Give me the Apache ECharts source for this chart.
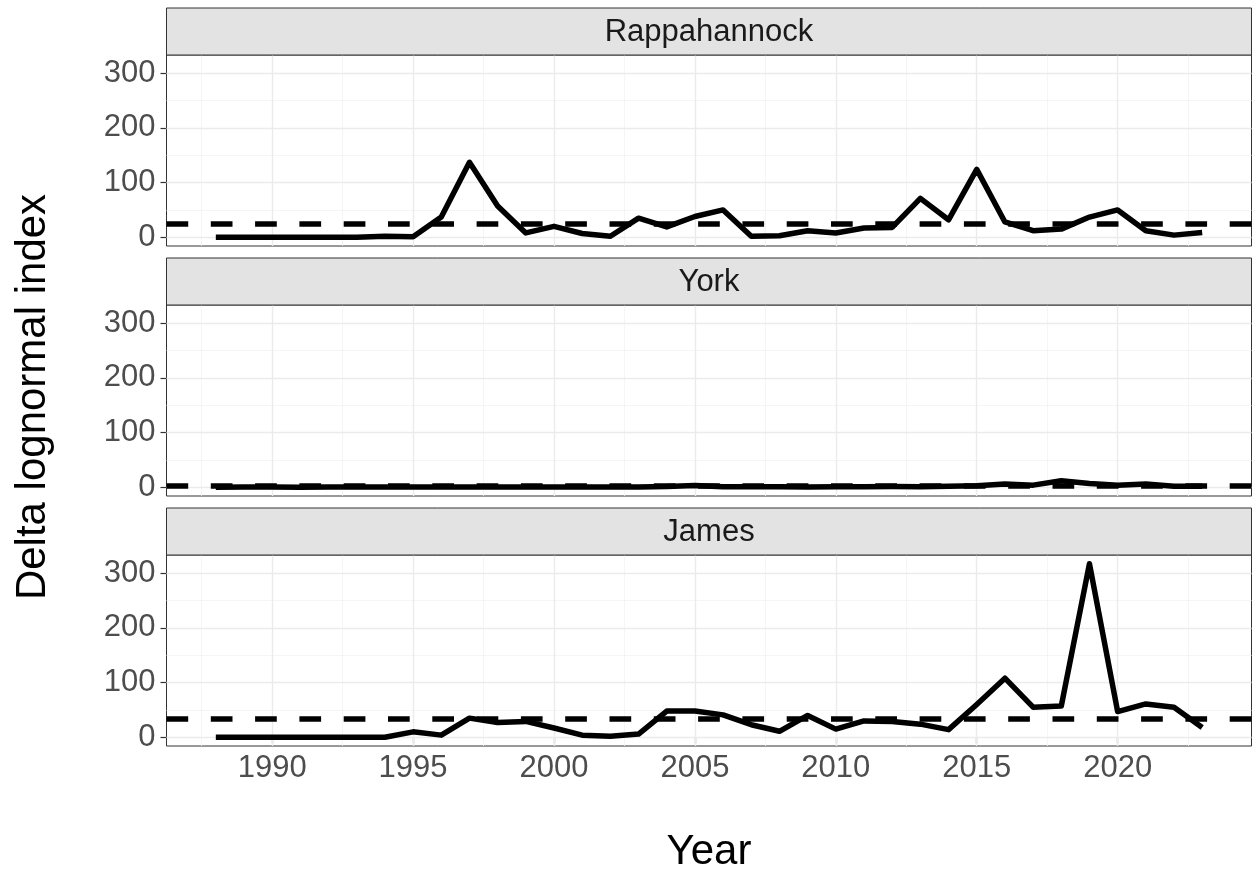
<!DOCTYPE html>
<html>
<head>
<meta charset="utf-8">
<title>Delta lognormal index by river</title>
<script src="https://cdn.jsdelivr.net/npm/echarts@6/dist/echarts.min.js"></script>
<style>
  html, body { margin: 0; padding: 0; background: #ffffff; }
  #chart { width: 1253px; height: 874px; }
</style>
</head>
<body>
<div id="chart"></div>
<script>
// Survey years
const years = [1988, 1989, 1990, 1991, 1992, 1993, 1994, 1995, 1996, 1997, 1998, 1999,
               2000, 2001, 2002, 2003, 2004, 2005, 2006, 2007, 2008, 2009, 2010, 2011,
               2012, 2013, 2014, 2015, 2016, 2017, 2018, 2019, 2020, 2021, 2022, 2023];

// Panel (river) names, top to bottom
const rivers = ['Rappahannock', 'York', 'James'];

// Delta lognormal index per river and year
const rappahannock = [0, 0, 0, 0, 0, 0, 2, 1, 37, 137, 57, 8,
                      20, 7, 2, 35, 19, 38, 50, 2, 3, 12, 8, 17,
                      18, 71, 32, 124, 28, 12, 15, 37, 50, 12, 4, 9];
const york = [0.3, 0.5, 0.4, 0.3, 0.5, 0.4, 0.5, 0.6, 0.4, 0.5, 0.4, 0.6,
              0.4, 0.5, 0.5, 0.8, 1.5, 3.5, 1.2, 1, 1, 0.8, 1, 1.2,
              1.5, 1.2, 2, 3, 6, 4, 12, 7, 4, 6, 2, 2];
const james = [0, 0, 0, 0, 0, 0, 0, 10, 4, 35, 27, 29,
               17, 4, 2, 6, 48, 48, 41, 23, 11, 40, 15, 30,
               29, 24, 14, 60, 108, 55, 57, 317, 47, 61, 55, 18];

// Long-term mean index (dashed reference line) per river
const meanIndex = [24.6, 2, 34.5];

// Axis tick labels
const xTicks = [1990, 1995, 2000, 2005, 2010, 2015, 2020];
const yTicks = [0, 100, 200, 300];

const seriesValues = [rappahannock, york, james];

// Shared scale limits (5% padding around the data range, shared by all panels)
const xMin = 1986.25, xMax = 2024.75;
const yMin = -15.85, yMax = 332.85;

// Layout
const panelLeft = 166.5;
const panelWidth = 1085;
const stripHeight = 47;
const plotHeight = 191;
const stripTops = [8, 258, 508];
const FONT = '"Liberation Sans", Arial, Helvetica, sans-serif';

// Gridline positions halfway between the labelled ticks
const xMinor = xTicks.map(v => v - 2.5).concat([xTicks[xTicks.length - 1] + 2.5]);
const yMinor = yTicks.slice(0, -1).map(v => v + 50);

const grids = [], xAxes = [], yAxes = [], series = [], graphics = [];

rivers.forEach((name, k) => {
  const top = stripTops[k] + stripHeight;
  const isBottom = k === rivers.length - 1;

  grids.push({
    left: panelLeft, top: top, width: panelWidth, height: plotHeight,
    show: true, backgroundColor: '#ffffff', borderColor: '#333333', borderWidth: 1
  });

  xAxes.push({
    type: 'value', gridIndex: k, min: xMin, max: xMax,
    axisLine: { show: false },
    splitLine: { show: false },
    axisTick: { show: isBottom, customValues: xTicks, length: 6,
                lineStyle: { color: '#333333', width: 1.2 } },
    axisLabel: { show: isBottom, customValues: xTicks, margin: 7,
                 formatter: v => String(v),
                 fontSize: 31, color: '#4D4D4D', fontFamily: FONT }
  });

  yAxes.push({
    type: 'value', gridIndex: k, min: yMin, max: yMax,
    axisLine: { show: false },
    splitLine: { show: false },
    axisTick: { show: true, customValues: yTicks, length: 6,
                lineStyle: { color: '#333333', width: 1.2 } },
    axisLabel: { show: true, customValues: yTicks, margin: 11,
                 formatter: v => String(v),
                 fontSize: 31, color: '#4D4D4D', fontFamily: FONT }
  });

  // Panel gridlines (major and minor), kept underneath the data
  const majorStyle = { color: '#EBEBEB', width: 1.4, type: 'solid' };
  const minorStyle = { color: '#F2F2F2', width: 0.8, type: 'solid' };
  const gridData = []
    .concat(xMinor.map(v => ({ xAxis: v, lineStyle: minorStyle })))
    .concat(yMinor.map(v => ({ yAxis: v, lineStyle: minorStyle })))
    .concat(xTicks.map(v => ({ xAxis: v, lineStyle: majorStyle })))
    .concat(yTicks.map(v => ({ yAxis: v, lineStyle: majorStyle })));
  series.push({
    type: 'line', xAxisIndex: k, yAxisIndex: k, data: [], z: 1,
    silent: true,
    markLine: {
      z: 1, silent: true, symbol: ['none', 'none'], label: { show: false },
      emphasis: { disabled: true }, animation: false,
      data: gridData
    }
  });

  // Index time series
  series.push({
    name: name, type: 'line', xAxisIndex: k, yAxisIndex: k, z: 4,
    data: years.map((y, i) => [y, seriesValues[k][i]]),
    showSymbol: false, symbol: 'none', silent: true,
    emphasis: { disabled: true },
    lineStyle: { color: '#000000', width: 5.5, cap: 'butt', join: 'round' },
    markLine: {
      z: 5, silent: true, symbol: ['none', 'none'], label: { show: false },
      emphasis: { disabled: true }, animation: false,
      lineStyle: { color: '#000000', width: 5.5, type: [21.7, 22.6], cap: 'butt' },
      data: [{ yAxis: meanIndex[k] }]
    }
  });

  // Facet strip with river name
  graphics.push({
    type: 'rect', z: 10,
    shape: { x: panelLeft, y: stripTops[k], width: panelWidth, height: stripHeight },
    style: { fill: '#E3E3E3', stroke: '#333333', lineWidth: 1 }
  });
  graphics.push({
    type: 'text', z: 11,
    x: panelLeft + panelWidth / 2, y: stripTops[k] + stripHeight / 2 + 1,
    style: { text: name, fill: '#1A1A1A', font: '31px ' + FONT,
             align: 'center', verticalAlign: 'middle' }
  });
});

// Axis titles
graphics.push({
  type: 'text', z: 11,
  x: panelLeft + panelWidth / 2, y: 852,
  style: { text: 'Year', fill: '#000000', font: '42px ' + FONT,
           align: 'center', verticalAlign: 'middle' }
});
graphics.push({
  type: 'text', z: 11,
  x: 33, y: 397, rotation: Math.PI / 2,
  style: { text: 'Delta lognormal index', fill: '#000000', font: '42px ' + FONT,
           align: 'center', verticalAlign: 'middle' }
});

const chart = echarts.init(document.getElementById('chart'), null, { renderer: 'canvas' });
chart.setOption({
  animation: false,
  backgroundColor: '#ffffff',
  grid: grids,
  xAxis: xAxes,
  yAxis: yAxes,
  series: series,
  graphic: { elements: graphics }
});
</script>
</body>
</html>
